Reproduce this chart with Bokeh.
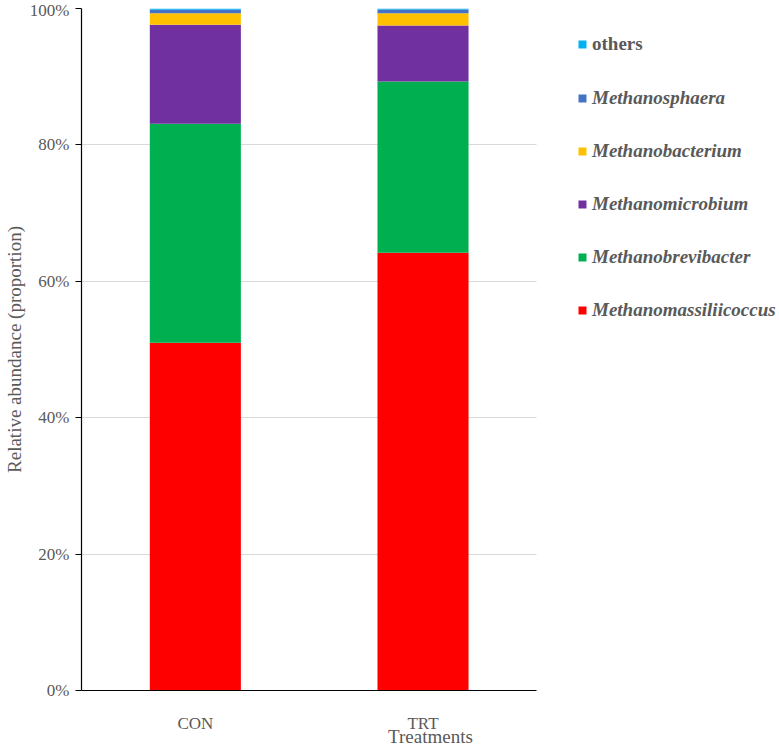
from bokeh.plotting import figure
from bokeh.models import Legend, LegendItem, NumeralTickFormatter, FixedTicker, Range1d
from bokeh.embed import file_html
from bokeh.resources import INLINE

categories = ["CON", "TRT"]
Methanomassiliicoccus = [0.510, 0.642]
Methanobrevibacter = [0.321, 0.251]
Methanomicrobium = [0.145, 0.082]
Methanobacterium = [0.017, 0.018]
Methanosphaera = [0.005, 0.0055]
others = [0.002, 0.0015]

series = ["Methanomassiliicoccus", "Methanobrevibacter", "Methanomicrobium",
          "Methanobacterium", "Methanosphaera", "others"]
colors = ["#FF0000", "#00B050", "#7030A0", "#FFC000", "#4472C4", "#00B0F0"]

# category positions on a numeric axis (one unit per category)
xpos = [i + 0.5 for i in range(len(categories))]

data = dict(x=xpos,
            Methanomassiliicoccus=Methanomassiliicoccus,
            Methanobrevibacter=Methanobrevibacter,
            Methanomicrobium=Methanomicrobium,
            Methanobacterium=Methanobacterium,
            Methanosphaera=Methanosphaera,
            others=others)

FONT = "Liberation Serif"
GREY = "#595959"

W, H = 779, 749
LEFT, TOP, RIGHT, BOTTOM = 80, 8, 0, 57
frame_w = W - LEFT - RIGHT
cat_px = 228.0
x_end = frame_w / cat_px

p = figure(x_range=Range1d(0, x_end), y_range=(0, 1), width=W, height=H,
           output_backend="svg", toolbar_location=None,
           min_border_left=LEFT, min_border_right=RIGHT, min_border_top=TOP,
           min_border_bottom=BOTTOM)
p.outline_line_color = None

rs = p.vbar_stack(series, x="x", width=0.4, color=colors, line_color=None, source=data)

p.xgrid.grid_line_color = None
p.ygrid.grid_line_color = "#D9D9D9"
p.ygrid.ticker = FixedTicker(ticks=[0, 0.2, 0.4, 0.6, 0.8, 1.0])
try:
    p.ygrid.cross_bounds = (0, len(categories))
except Exception:
    pass
p.yaxis.ticker = FixedTicker(ticks=[0, 0.2, 0.4, 0.6, 0.8, 1.0])
p.yaxis.formatter = NumeralTickFormatter(format="0%")

p.xaxis.ticker = FixedTicker(ticks=xpos)
p.xaxis.major_label_overrides = {x: c for x, c in zip(xpos, categories)}
p.xaxis.bounds = (0, len(categories))

for ax in (p.xaxis[0], p.yaxis[0]):
    ax.axis_line_color = "#000000"
    ax.axis_line_width = 1.2
    ax.major_label_text_font = FONT
    ax.major_label_text_font_size = "17px"
    ax.major_label_text_color = GREY
    ax.axis_label_text_font = FONT
    ax.axis_label_text_font_size = "19px"
    ax.axis_label_text_color = GREY
    ax.axis_label_text_font_style = "normal"
    ax.minor_tick_line_color = None

p.yaxis.major_tick_out = 6
p.yaxis.major_tick_in = 0
p.yaxis.major_tick_line_color = "#000000"
p.yaxis.major_label_standoff = 6
p.yaxis.axis_label = "Relative abundance (proportion)"
p.yaxis.axis_label_standoff = 2

p.xaxis.major_tick_line_color = None
p.xaxis.major_tick_out = 0
p.xaxis.major_tick_in = 0
p.xaxis.major_label_standoff = 23
p.xaxis.axis_label = "Treatments"
p.xaxis.axis_label_standoff = -10

def make_legend(items, loc, style):
    return Legend(items=items, location=loc, padding=0, margin=0, spacing=29,
                  glyph_width=10, glyph_height=10, label_height=24,
                  label_standoff=5, border_line_color=None,
                  background_fill_alpha=0,
                  label_text_font=FONT, label_text_font_size="19px",
                  label_text_color=GREY, label_text_font_style=style)

items_main = [LegendItem(label=series[i], renderers=[rs[i]]) for i in [4, 3, 2, 1, 0]]
items_other = [LegendItem(label=series[5], renderers=[rs[5]])]

frame_bottom = 690
p.add_layout(make_legend(items_other, (496, frame_bottom - 56), "bold"), "center")
p.add_layout(make_legend(items_main, (496, frame_bottom - 322), "bold italic"), "center")

open("out.html", "w").write(file_html(p, INLINE))
